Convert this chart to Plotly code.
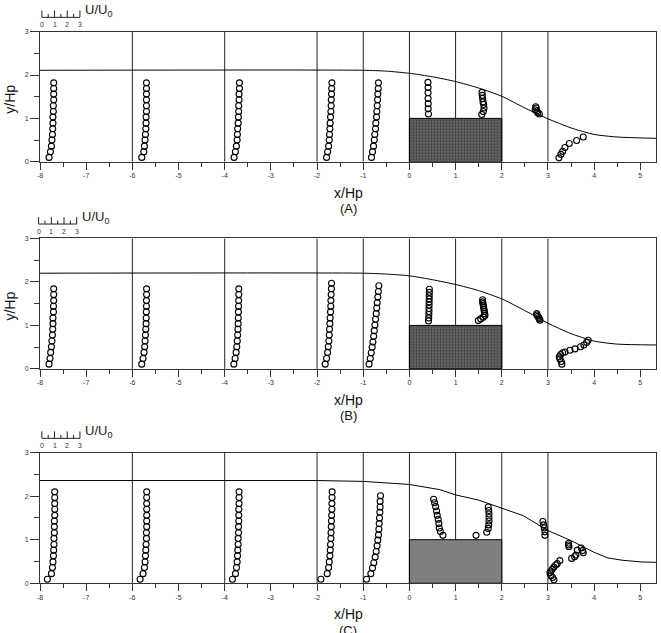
import plotly.graph_objects as go

# ---------------- data ----------------
STATIONS = [-8, -6, -4, -2, -1, 0, 1, 2, 3]
X_RANGE = [-8, 5.34]
Y_RANGE = [0, 3]
X_TICKS = [-8, -7, -6, -5, -4, -3, -2, -1, 0, 1, 2, 3, 4, 5]
Y_TICKS = [0, 1, 2, 3]
K = 0.275          # x/Hp per unit of U/U0 used to draw the profiles
SCALE_TICKS = [0, 1, 2, 3]
BLOCK_X = [0, 2, 2, 0, 0]
BLOCK_Y = [0, 0, 1, 1, 0]

# ---- panel A ----
A_SURF_X = [-8, -1, -0.5, 0, 0.5, 1, 1.5, 2, 2.5, 3, 3.5, 4, 4.5, 5.34]
A_SURF_Y = [2.11, 2.11, 2.09, 2.04, 1.96, 1.85, 1.70, 1.51, 1.24, 0.99, 0.78, 0.63, 0.57, 0.54]
A_Y_UP = [0.10, 0.23, 0.36, 0.50, 0.63, 0.76, 0.89, 1.03, 1.16, 1.29, 1.43, 1.56, 1.69, 1.82]
A_U_M8 = [0.71, 0.82, 0.90, 0.94, 0.98, 1.00, 1.02, 1.02, 1.05, 1.05, 1.08, 1.08, 1.08, 1.08]
A_U_M6 = [0.74, 0.90, 0.95, 1.00, 1.03, 1.06, 1.08, 1.08, 1.11, 1.11, 1.11, 1.11, 1.11, 1.11]
A_U_M4 = [0.74, 0.84, 0.92, 0.98, 1.00, 1.02, 1.06, 1.08, 1.10, 1.10, 1.13, 1.13, 1.16, 1.16]
A_U_M2 = [0.75, 0.83, 0.91, 0.96, 0.98, 1.01, 1.03, 1.06, 1.09, 1.11, 1.12, 1.14, 1.15, 1.17]
A_U_M1 = [0.65, 0.73, 0.81, 0.87, 0.91, 0.97, 0.99, 1.05, 1.07, 1.10, 1.13, 1.15, 1.18, 1.20]
A_Y_0 = [1.10, 1.22, 1.34, 1.46, 1.59, 1.71, 1.83]
A_U_0 = [1.50, 1.48, 1.48, 1.47, 1.47, 1.47, 1.46]
A_Y_1 = [1.09, 1.16, 1.24, 1.32, 1.38, 1.46, 1.53, 1.60]
A_U_1 = [2.06, 2.18, 2.24, 2.21, 2.16, 2.13, 2.10, 2.08]
A_Y_2 = [1.10, 1.13, 1.17, 1.20, 1.24, 1.27]
A_U_2 = [2.96, 2.83, 2.76, 2.63, 2.72, 2.67]
A_Y_3 = [0.09, 0.17, 0.24, 0.33, 0.42, 0.49, 0.57]
A_U_3 = [0.87, 1.02, 1.16, 1.34, 1.68, 2.26, 2.78]

# ---- panel B ----
B_SURF_X = [-8, -1, -0.5, 0, 0.5, 1, 1.5, 2, 2.5, 3, 3.5, 4, 4.5, 5.34]
B_SURF_Y = [2.20, 2.20, 2.18, 2.14, 2.05, 1.94, 1.80, 1.61, 1.34, 1.05, 0.81, 0.64, 0.57, 0.55]
B_Y_UP = [0.11, 0.24, 0.38, 0.51, 0.64, 0.78, 0.91, 1.04, 1.17, 1.31, 1.44, 1.57, 1.71, 1.84]
B_U_M8 = [0.71, 0.79, 0.84, 0.90, 0.94, 0.98, 1.00, 1.02, 1.02, 1.06, 1.06, 1.08, 1.08, 1.08]
B_U_M6 = [0.74, 0.84, 0.92, 0.97, 1.00, 1.03, 1.06, 1.08, 1.09, 1.10, 1.11, 1.11, 1.12, 1.12]
B_U_M4 = [0.72, 0.82, 0.90, 0.95, 0.99, 1.02, 1.04, 1.06, 1.07, 1.08, 1.09, 1.10, 1.11, 1.11]
B_Y_M2 = [0.11, 0.24, 0.38, 0.51, 0.64, 0.78, 0.91, 1.04, 1.17, 1.31, 1.44, 1.57, 1.71, 1.84, 1.97]
B_U_M2 = [0.64, 0.75, 0.83, 0.88, 0.93, 0.96, 0.98, 1.01, 1.03, 1.06, 1.08, 1.09, 1.11, 1.13, 1.14]
B_Y_M1 = [0.11, 0.24, 0.37, 0.50, 0.62, 0.75, 0.88, 1.01, 1.14, 1.27, 1.40, 1.52, 1.65, 1.78, 1.91]
B_U_M1 = [0.46, 0.55, 0.63, 0.70, 0.76, 0.82, 0.87, 0.92, 0.97, 1.02, 1.06, 1.10, 1.15, 1.19, 1.23]
B_Y_0 = [1.10, 1.17, 1.25, 1.32, 1.39, 1.47, 1.54, 1.61, 1.68, 1.76, 1.83]
B_U_0 = [1.50, 1.52, 1.53, 1.54, 1.54, 1.55, 1.55, 1.56, 1.56, 1.57, 1.57]
B_Y_1 = [1.11, 1.15, 1.19, 1.23, 1.27, 1.32, 1.36, 1.41, 1.45, 1.50, 1.54, 1.59]
B_U_1 = [1.79, 1.98, 2.18, 2.31, 2.29, 2.26, 2.24, 2.21, 2.19, 2.16, 2.13, 2.13]
B_Y_2 = [1.12, 1.15, 1.18, 1.21, 1.24, 1.27]
B_U_2 = [3.01, 2.95, 2.91, 2.83, 2.77, 2.75]
B_Y_3 = [0.11, 0.17, 0.23, 0.28, 0.33, 0.37, 0.39, 0.43, 0.46, 0.51, 0.55, 0.61, 0.66]
B_U_3 = [1.10, 1.05, 0.94, 0.89, 1.00, 1.16, 1.34, 1.73, 2.13, 2.57, 2.83, 3.05, 3.17]

# ---- panel C ----
C_SURF_X = [-8, -2, -1, 0, 0.66, 1, 1.5, 2, 2.47, 3, 3.5, 4, 4.3, 4.6, 5, 5.34]
C_SURF_Y = [2.36, 2.36, 2.34, 2.27, 2.15, 2.03, 1.91, 1.72, 1.55, 1.21, 0.98, 0.71, 0.58, 0.53, 0.49, 0.48]
C_Y_UP = [0.09, 0.22, 0.36, 0.49, 0.63, 0.76, 0.89, 1.03, 1.16, 1.30, 1.43, 1.56, 1.70, 1.83, 1.97, 2.10]
C_U_M8 = [0.58, 0.90, 0.98, 1.02, 1.06, 1.08, 1.10, 1.10, 1.13, 1.13, 1.13, 1.16, 1.16, 1.16, 1.16, 1.16]
C_U_M6 = [0.61, 0.84, 0.95, 1.00, 1.03, 1.06, 1.08, 1.11, 1.11, 1.13, 1.13, 1.13, 1.13, 1.13, 1.13, 1.13]
C_U_M4 = [0.61, 0.85, 0.93, 0.98, 1.01, 1.03, 1.06, 1.06, 1.09, 1.09, 1.11, 1.11, 1.11, 1.13, 1.13, 1.13]
C_U_M2 = [0.30, 0.80, 0.91, 0.96, 1.01, 1.04, 1.06, 1.09, 1.10, 1.12, 1.13, 1.15, 1.17, 1.17, 1.18, 1.19]
C_Y_M1 = [0.09, 0.22, 0.35, 0.47, 0.60, 0.73, 0.86, 0.99, 1.11, 1.24, 1.37, 1.50, 1.63, 1.75, 1.88, 2.01]
C_U_M1 = [0.26, 0.60, 0.73, 0.83, 0.94, 1.02, 1.09, 1.15, 1.20, 1.23, 1.26, 1.28, 1.31, 1.33, 1.33, 1.36]
C_Y_0 = [1.10, 1.19, 1.27, 1.37, 1.47, 1.56, 1.66, 1.76, 1.85, 1.93]
C_U_0 = [2.64, 2.44, 2.35, 2.32, 2.27, 2.19, 2.14, 2.06, 1.98, 1.91]
C_Y_1 = [1.10, 1.17, 1.26, 1.34, 1.43, 1.51, 1.59, 1.67, 1.75]
C_U_1 = [1.61, 2.45, 2.57, 2.61, 2.63, 2.63, 2.63, 2.61, 2.57]
C_Y_2 = [1.10, 1.18, 1.27, 1.34, 1.42]
C_U_2 = [3.40, 3.40, 3.35, 3.30, 3.24]
C_Y_3 = [0.08, 0.13, 0.17, 0.24, 0.28, 0.32, 0.37, 0.42, 0.45, 0.52,
         0.57, 0.61, 0.65, 0.70, 0.75, 0.76, 0.81, 0.84, 0.88, 0.92]
C_U_3 = [0.47, 0.37, 0.24, 0.16, 0.24, 0.34, 0.47, 0.61, 0.73, 0.94,
         1.87, 2.10, 2.20, 2.78, 2.73, 2.31, 2.62, 1.65, 1.63, 1.63]

PANELS = [
    dict(label="(A)", surf_x=A_SURF_X, surf_y=A_SURF_Y, smooth=True, pattern=True, ylabel=True,
         profiles=[(-8, A_U_M8, A_Y_UP), (-6, A_U_M6, A_Y_UP), (-4, A_U_M4, A_Y_UP),
                   (-2, A_U_M2, A_Y_UP), (-1, A_U_M1, A_Y_UP), (0, A_U_0, A_Y_0),
                   (1, A_U_1, A_Y_1), (2, A_U_2, A_Y_2), (3, A_U_3, A_Y_3)]),
    dict(label="(B)", surf_x=B_SURF_X, surf_y=B_SURF_Y, smooth=True, pattern=True, ylabel=True,
         profiles=[(-8, B_U_M8, B_Y_UP), (-6, B_U_M6, B_Y_UP), (-4, B_U_M4, B_Y_UP),
                   (-2, B_U_M2, B_Y_M2), (-1, B_U_M1, B_Y_M1), (0, B_U_0, B_Y_0),
                   (1, B_U_1, B_Y_1), (2, B_U_2, B_Y_2), (3, B_U_3, B_Y_3)]),
    dict(label="(C)", surf_x=C_SURF_X, surf_y=C_SURF_Y, smooth=False, pattern=False, ylabel=False,
         profiles=[(-8, C_U_M8, C_Y_UP), (-6, C_U_M6, C_Y_UP), (-4, C_U_M4, C_Y_UP),
                   (-2, C_U_M2, C_Y_UP), (-1, C_U_M1, C_Y_M1), (0, C_U_0, C_Y_0),
                   (1, C_U_1, C_Y_1), (2, C_U_2, C_Y_2), (3, C_U_3, C_Y_3)]),
]

# ---------------- layout / style ----------------
W, H = 661, 633
ML, MR = 40, 5
PW = W - ML - MR
PANEL_PX = [(28.0, 159.5), (237.0, 369.0), (453.7, 585.7)]   # top/bottom pixel rows of each plot
SCALE_X0 = [-7.96, -8.03, -7.96]
FONT = "Liberation Sans, Arial, sans-serif"
AX = "#333333"

fig = go.Figure()
shapes, annotations = [], []
xspan = X_RANGE[1] - X_RANGE[0]


def xd(v):
    return (v - X_RANGE[0]) / xspan


for i, p in enumerate(PANELS):
    sfx = "" if i == 0 else str(i + 1)
    xr, yr = "x" + sfx, "y" + sfx
    top, bot = PANEL_PX[i]
    ph = bot - top

    # block
    blk = dict(x=BLOCK_X, y=BLOCK_Y, mode="lines", fill="toself",
               line=dict(color="black", width=1), xaxis=xr, yaxis=yr,
               showlegend=False, hoverinfo="skip")
    if p["pattern"]:
        blk["fillcolor"] = "#666666"
        blk["fillpattern"] = dict(shape=".", fgcolor="#111111", bgcolor="#707070",
                                  size=3, solidity=0.5)
    else:
        blk["fillcolor"] = "#7f7f7f"
    fig.add_trace(go.Scatter(**blk))

    # free surface
    fig.add_trace(go.Scatter(x=p["surf_x"], y=p["surf_y"], mode="lines",
                             line=dict(color="black", width=1,
                                       shape="spline" if p["smooth"] else "linear",
                                       smoothing=0.6),
                             xaxis=xr, yaxis=yr, showlegend=False, hoverinfo="skip"))

    # velocity profiles
    px_, py_ = [], []
    for st, us, ys in p["profiles"]:
        px_ += [st + K * u for u in us]
        py_ += list(ys)
    fig.add_trace(go.Scatter(x=px_, y=py_, mode="markers",
                             marker=dict(symbol="circle-open", size=6,
                                         line=dict(color="black", width=1.1), color="black"),
                             xaxis=xr, yaxis=yr, showlegend=False))

    # station lines
    for st in STATIONS[1:]:
        shapes.append(dict(type="line", xref=xr, yref=yr, x0=st, x1=st,
                           y0=Y_RANGE[0], y1=Y_RANGE[1], layer="below",
                           line=dict(color="#222", width=1)))

    # U/U0 scale bar (drawn above the plot, in domain units)
    base = 1 + 14.5 / ph
    x0 = SCALE_X0[i]
    shapes.append(dict(type="line", xref=xr + " domain", yref=yr + " domain",
                       x0=xd(x0), x1=xd(x0 + K * SCALE_TICKS[-1]), y0=base, y1=base,
                       line=dict(color="#222", width=1)))
    for k in range(0, 2 * SCALE_TICKS[-1] + 1):
        v = k / 2
        hpx = 7 if k % 2 == 0 else 3.5
        shapes.append(dict(type="line", xref=xr + " domain", yref=yr + " domain",
                           x0=xd(x0 + K * v), x1=xd(x0 + K * v), y0=base, y1=base + hpx / ph,
                           line=dict(color="#222", width=1)))
    for v in SCALE_TICKS:
        annotations.append(dict(xref=xr + " domain", yref=yr + " domain",
                                x=xd(x0 + K * v), y=base - 1.5 / ph, text=str(v),
                                showarrow=False, xanchor="center", yanchor="top",
                                font=dict(size=7, color="#333", family=FONT)))
    annotations.append(dict(xref=xr + " domain", yref=yr + " domain",
                            x=xd(x0 + K * SCALE_TICKS[-1]) + 3 / PW,
                            y=base - 4 / ph, text="U/U<sub>0</sub>",
                            showarrow=False, xanchor="left", yanchor="bottom",
                            font=dict(size=13, color="#222", family=FONT)))

    # axis titles & panel label (paper x is relative to the plot area)
    annotations.append(dict(xref="paper", yref="paper", x=0.5, y=1 - (bot + 31.5) / H,
                            text="x/Hp", showarrow=False, xanchor="center", yanchor="middle",
                            font=dict(size=14, color="#111", family=FONT)))
    annotations.append(dict(xref="paper", yref="paper", x=0.5, y=1 - (bot + 47.5) / H,
                            text=p["label"], showarrow=False, xanchor="center", yanchor="middle",
                            font=dict(size=13, color="#111", family=FONT)))
    if p["ylabel"]:
        annotations.append(dict(xref="paper", yref="paper", x=(10 - ML) / PW,
                                y=1 - (top + ph / 2 + 3) / H,
                                text="y/Hp", showarrow=False, textangle=-90,
                                xanchor="center", yanchor="middle",
                                font=dict(size=14, color="#111", family=FONT)))

    dom = [1 - bot / H, 1 - top / H]
    fig.update_layout(**{
        "xaxis" + sfx: dict(domain=[0, 1], range=X_RANGE, anchor=yr, showgrid=False, zeroline=False,
                            showline=True, linecolor=AX, linewidth=1, mirror=True,
                            ticks="outside", ticklen=7, tickwidth=1, tickcolor=AX,
                            tickmode="array", tickvals=X_TICKS, ticktext=[str(v) for v in X_TICKS],
                            tickfont=dict(size=7, color="#333", family=FONT),
                            minor=dict(tickmode="array", tickvals=[v + 0.5 for v in X_TICKS],
                                       ticks="outside", ticklen=4, tickcolor=AX, showgrid=False),
                            fixedrange=True),
        "yaxis" + sfx: dict(domain=dom, range=Y_RANGE, anchor=xr, showgrid=False, zeroline=False,
                            showline=True, linecolor=AX, linewidth=1, mirror=True,
                            ticks="outside", ticklen=9, tickwidth=1, tickcolor=AX,
                            tickmode="array", tickvals=Y_TICKS, ticktext=[str(v) for v in Y_TICKS],
                            tickfont=dict(size=7, color="#333", family=FONT),
                            minor=dict(tickmode="array", tickvals=[0.5, 1.5, 2.5],
                                       ticks="outside", ticklen=5, tickcolor=AX, showgrid=False),
                            fixedrange=True),
    })

fig.update_layout(width=W, height=H, margin=dict(l=ML, r=MR, t=0, b=0),
                  paper_bgcolor="white", plot_bgcolor="white",
                  shapes=shapes, annotations=annotations, showlegend=False,
                  font=dict(family=FONT))

fig.write_html("out.html")
